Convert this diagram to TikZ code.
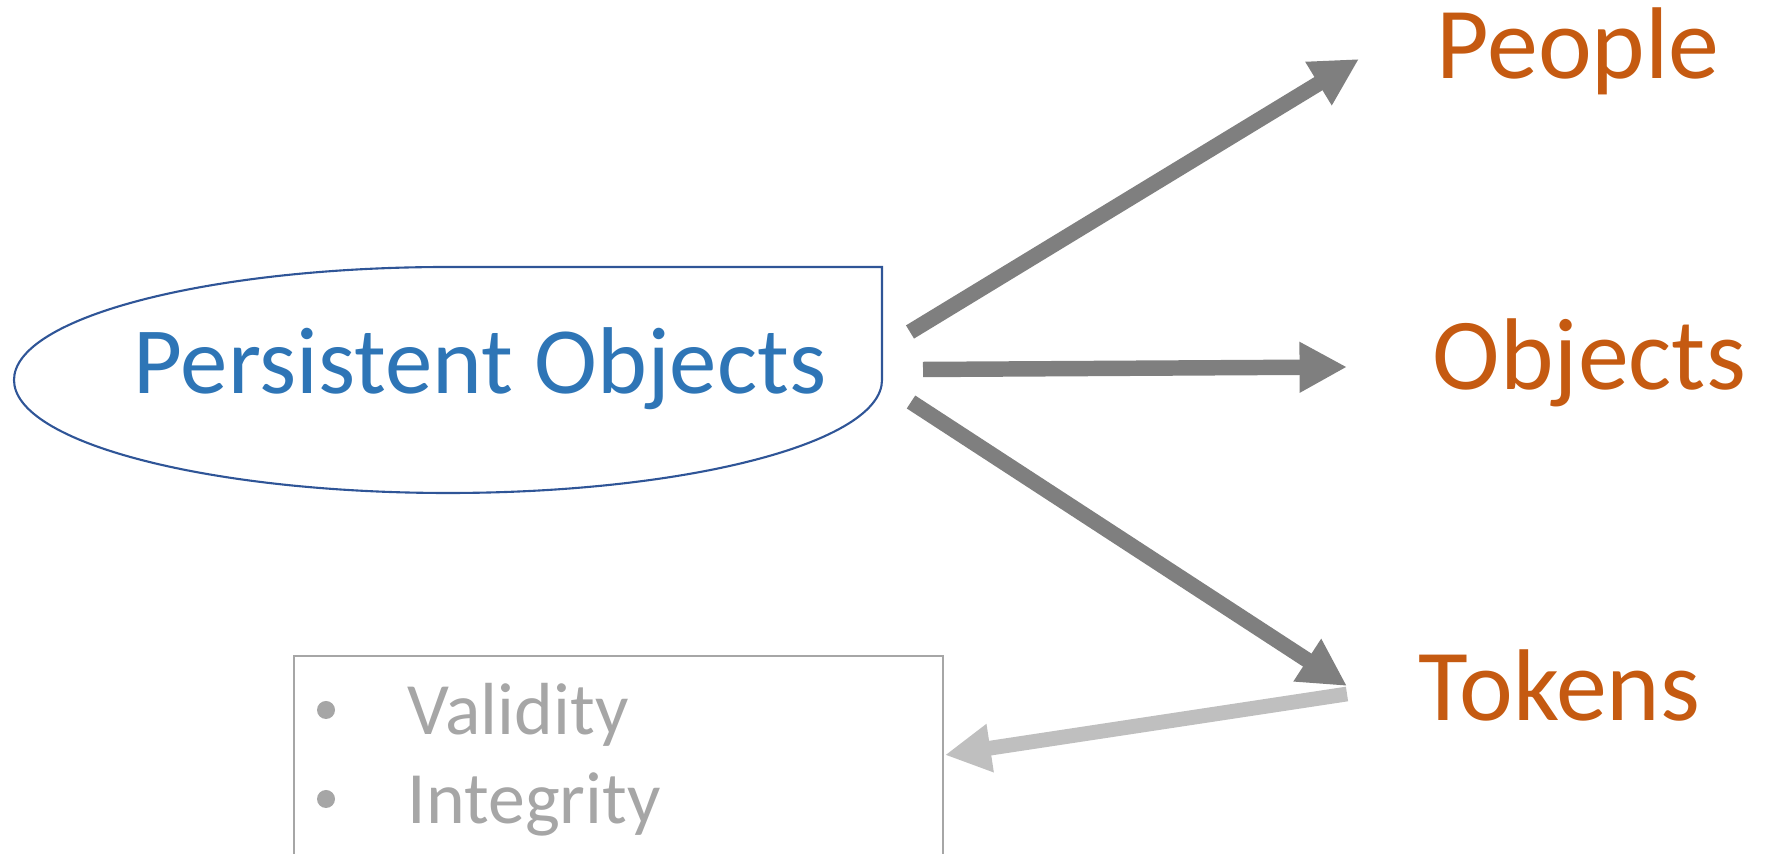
\documentclass[tikz,border=0pt]{standalone}
\usepackage{fontspec}
\setmainfont{Carlito}
\usetikzlibrary{arrows.meta}
\definecolor{tagorange}{HTML}{C55A11}
\definecolor{poblue}{HTML}{2E75B6}
\definecolor{poline}{HTML}{2F5597}
\definecolor{arrowgray}{HTML}{7F7F7F}
\definecolor{backgray}{HTML}{BFBFBF}
\definecolor{listgray}{HTML}{A6A6A6}
\begin{document}
\begin{tikzpicture}[x=0.1mm, y=0.1mm, line join=miter,
	fat/.style={line width=4.4pt, arrowgray, -{Triangle[length=13.5pt,width=13.5pt]}},
	back/.style={line width=4.2pt, backgray, -{Triangle[length=13pt,width=13pt]}},
	tag/.style={anchor=base west, inner sep=0pt, text=tagorange, font=\fontsize{29}{35}\selectfont},
	item/.style={anchor=base west, inner sep=0pt, text=listgray, font=\fontsize{21}{25}\selectfont}]
	\useasboundingbox (0,0) rectangle (1765,854);
	% half ellipse, half box
	\draw[poline, line width=0.6pt] (448,587) -- (882,587) -- (882,474)
		arc[start angle=0, end angle=-270, x radius=434, y radius=113] -- cycle;
	\node[anchor=base west, inner sep=0pt, text=poblue, font=\fontsize{27}{32}\selectfont] (po) at (133,460) {Persistent Objects};
	\node[tag] (people) at (1436,775) {People};
	\node[tag] (objects) at (1432,464) {Objects};
	\node[tag] (tokens) at (1418,133) {Tokens};
	% arrow ends
	\coordinate (s1) at (910,522);   \coordinate (e1) at (1359,795);
	\coordinate (s2) at (923,484.5); \coordinate (e2) at (1347,487);
	\coordinate (s3) at (911,452);   \coordinate (e3) at (1347,168);
	\coordinate (s4) at (1347,160);  \coordinate (e4) at (945,99);
	\draw[fat] (s1) -- (e1);
	\draw[fat] (s2) -- (e2);
	\draw[fat] (s3) -- (e3);
	\draw[back] (s4) -- (e4);
	% list box
	\draw[listgray, line width=0.6pt] (294,-10) -- (294,198) -- (943,198) -- (943,-10);
	\fill[listgray] (326,144) circle (9);
	\fill[listgray] (326,55) circle (9);
	\node[item] (validity) at (407,119) {Validity};
	\node[item] (integrity) at (407,30) {Integrity};
\end{tikzpicture}
\end{document}
